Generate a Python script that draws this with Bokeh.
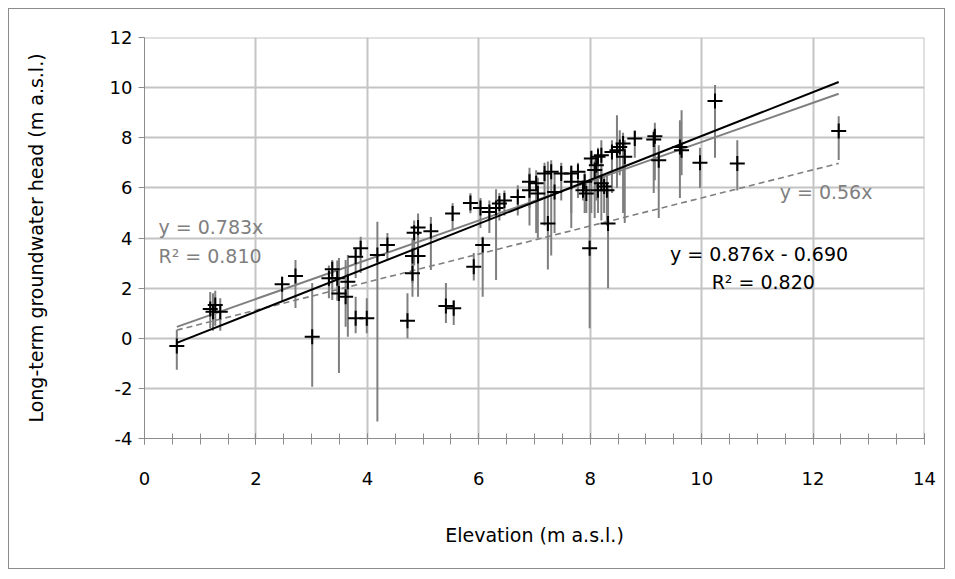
from bokeh.plotting import figure
from bokeh.models import ColumnDataSource, SingleIntervalTicker, Label, Range1d, PrintfTickFormatter
from bokeh.embed import file_html
from bokeh.resources import INLINE

# ---- data ----
elev = [0.58, 1.18, 1.27, 1.23, 1.36, 2.47, 2.71, 3.01, 3.31, 3.37,
        3.46, 3.49, 3.61, 3.65, 3.79, 3.88, 3.79, 3.99, 4.18, 4.36,
        4.72, 4.81, 4.81, 4.84, 4.91, 4.91, 5.14, 5.53, 5.41, 5.55,
        5.85, 6.03, 5.91, 6.07, 6.19, 6.31, 6.37, 6.46, 6.70, 6.91,
        6.91, 7.03, 7.06, 7.18, 7.24, 7.30, 7.36, 7.48, 7.66, 7.66,
        7.78, 7.90, 7.87, 7.93, 7.99, 8.02, 8.14, 8.20, 8.11, 8.08,
        8.20, 8.30, 8.14, 8.25, 8.32, 8.39, 8.48, 8.53, 8.59, 8.62,
        8.80, 9.14, 9.16, 9.23, 9.61, 9.64, 9.97, 10.24, 10.64, 12.46]
head = [-0.31, 1.17, 1.33, 1.06, 1.06, 2.15, 2.48, 0.06, 2.39, 2.75,
        2.39, 1.79, 1.66, 2.25, 3.25, 3.59, 0.80, 0.80, 3.32, 3.72,
        0.70, 2.59, 3.28, 4.21, 4.42, 3.28, 4.27, 4.98, 1.29, 1.20,
        5.40, 5.20, 2.85, 3.72, 5.04, 5.20, 5.38, 5.50, 5.64, 5.91,
        6.24, 6.18, 5.78, 6.57, 4.58, 6.64, 5.84, 6.57, 6.57, 6.24,
        6.64, 6.24, 5.91, 5.78, 3.59, 7.17, 7.24, 7.30, 6.90, 6.71,
        6.18, 5.91, 5.91, 6.05, 4.58, 7.43, 7.50, 7.63, 7.77, 7.24,
        7.97, 7.93, 8.06, 7.10, 7.63, 7.50, 7.00, 9.47, 6.97, 8.27]
head_lo = [-1.26, 0.40, 0.50, 0.30, 0.30, 1.46, 1.21, -1.94, 1.60, 1.53,
           1.50, -1.39, 0.46, 0.06, 2.40, 2.60, 0.20, 0.20, -3.32, 3.10,
           0.00, 1.66, 2.20, 2.90, 1.66, 2.60, 2.72, 4.31, 0.61, 0.53,
           4.99, 4.40, 2.30, 1.66, 4.20, 2.32, 4.70, 4.90, 4.90, 4.50,
           5.20, 4.20, 4.00, 4.50, 2.74, 3.30, 4.20, 5.50, 4.40, 5.00,
           5.60, 5.00, 5.50, 5.00, 0.40, 5.00, 5.50, 6.00, 5.50, 4.80,
           4.70, 4.50, 5.00, 5.00, 2.00, 5.80, 6.00, 6.50, 5.00, 4.60,
           7.20, 5.80, 6.30, 4.80, 5.60, 6.50, 6.00, 7.20, 5.90, 7.11]
head_hi = [0.33, 1.85, 1.90, 1.80, 1.60, 2.45, 3.12, 2.20, 2.90, 3.12,
           3.10, 3.20, 3.12, 3.32, 3.60, 4.05, 1.66, 1.60, 4.65, 4.20,
           1.80, 3.00, 4.00, 4.70, 4.98, 3.90, 4.84, 5.39, 2.20, 1.53,
           5.79, 5.60, 3.40, 4.05, 5.50, 5.95, 5.80, 5.90, 6.10, 6.60,
           6.80, 6.70, 6.40, 7.00, 7.05, 7.10, 6.60, 7.00, 6.90, 6.60,
           7.00, 6.60, 6.30, 6.20, 6.30, 7.50, 7.60, 7.90, 7.30, 7.10,
           6.80, 6.50, 6.30, 6.50, 6.10, 7.90, 8.90, 8.30, 8.20, 7.90,
           8.30, 8.30, 8.60, 7.70, 8.70, 9.10, 7.60, 10.10, 7.90, 8.86]

# trend lines shown on the chart
fit_slope, fit_intercept = 0.876, -0.690
origin_slope = 0.783
ref_slope = 0.56

eq_fit = "y = 0.876x - 0.690"
r2_fit = "R\u00b2 = 0.820"
eq_origin = "y = 0.783x"
r2_origin = "R\u00b2 = 0.810"
eq_ref = "y = 0.56x"

x_title = "Elevation (m a.s.l.)"
y_title = "Long-term groundwater head (m a.s.l.)"

FONT = "DejaVu Sans"
GRAY = "#7f7f7f"

src = ColumnDataSource(dict(x=elev, y=head, lo=head_lo, hi=head_hi))

p = figure(width=937, height=561, output_backend="svg", toolbar_location=None,
           x_range=Range1d(0, 14), y_range=Range1d(-4, 12),
           min_border_left=135, min_border_right=22, min_border_top=28,
           min_border_bottom=132)
p.margin = (8, 0, 0, 8)
p.styles = {"border": "1px solid #8c8c8c"}
p.outline_line_color = None
p.background_fill_color = "white"
p.border_fill_color = "white"

# grid
p.xgrid.ticker = SingleIntervalTicker(interval=2)
p.ygrid.ticker = SingleIntervalTicker(interval=2)
for g in (p.xgrid, p.ygrid):
    g.grid_line_color = "#c4c4c4"
    g.grid_line_width = 2

# frame edges at top / right
p.segment(x0=[0], y0=[12], x1=[14], y1=[12], line_color="#c4c4c4", line_width=2)
p.segment(x0=[14], y0=[-4], x1=[14], y1=[12], line_color="#c4c4c4", line_width=2)

# axes
xa = p.xaxis[0]
xa.ticker = SingleIntervalTicker(interval=2, num_minor_ticks=4)
xa.axis_line_color = "#8c8c8c"
xa.major_tick_line_color = "#8c8c8c"
xa.minor_tick_line_color = "#8c8c8c"
xa.major_tick_in = 5
xa.major_tick_out = 6
xa.minor_tick_in = 5
xa.minor_tick_out = 6
xa.major_label_standoff = 27
xa.axis_label = x_title
xa.axis_label_standoff = 36

ya = p.yaxis[0]
ya.ticker = SingleIntervalTicker(interval=2, num_minor_ticks=0)
ya.axis_line_color = "#8c8c8c"
ya.major_tick_line_color = "#8c8c8c"
ya.minor_tick_line_color = None
ya.major_tick_in = 0
ya.major_tick_out = 6
ya.major_label_standoff = 6
ya.axis_label = y_title
ya.axis_label_standoff = 60

for ax in (xa, ya):
    ax.formatter = PrintfTickFormatter(format="%d")
    ax.major_label_text_font = FONT
    ax.major_label_text_font_size = "18px"
    ax.major_label_text_color = "black"
    ax.axis_label_text_font = FONT
    ax.axis_label_text_font_size = "19px"
    ax.axis_label_text_font_style = "normal"
    ax.axis_label_text_color = "black"

# error bars
p.segment(x0="x", y0="lo", x1="x", y1="hi", source=src,
          line_color=GRAY, line_width=2)

# trend lines
xmin, xmax = min(elev), max(elev)
p.line([xmin, xmax], [ref_slope * xmin, ref_slope * xmax],
       line_color=GRAY, line_width=1.6, line_dash="6 4")
p.line([xmin, xmax], [origin_slope * xmin, origin_slope * xmax],
       line_color=GRAY, line_width=2)
p.line([xmin, xmax], [fit_slope * xmin + fit_intercept, fit_slope * xmax + fit_intercept],
       line_color="black", line_width=2)

# points
p.scatter("x", "y", source=src, marker="cross", size=15,
          line_color="black", line_width=2)

# annotations
def lab(x, y, t, c):
    p.add_layout(Label(x=x, y=y, text=t, text_font=FONT, text_font_size="19px",
                       text_color=c, text_baseline="middle", text_align="left"))

lab(0.25, 4.45, eq_origin, GRAY)
lab(0.25, 3.3, r2_origin, GRAY)
lab(11.4, 5.82, eq_ref, GRAY)
lab(9.43, 3.37, eq_fit, "black")
lab(10.18, 2.23, r2_fit, "black")

open("out.html", "w").write(file_html(p, INLINE))
